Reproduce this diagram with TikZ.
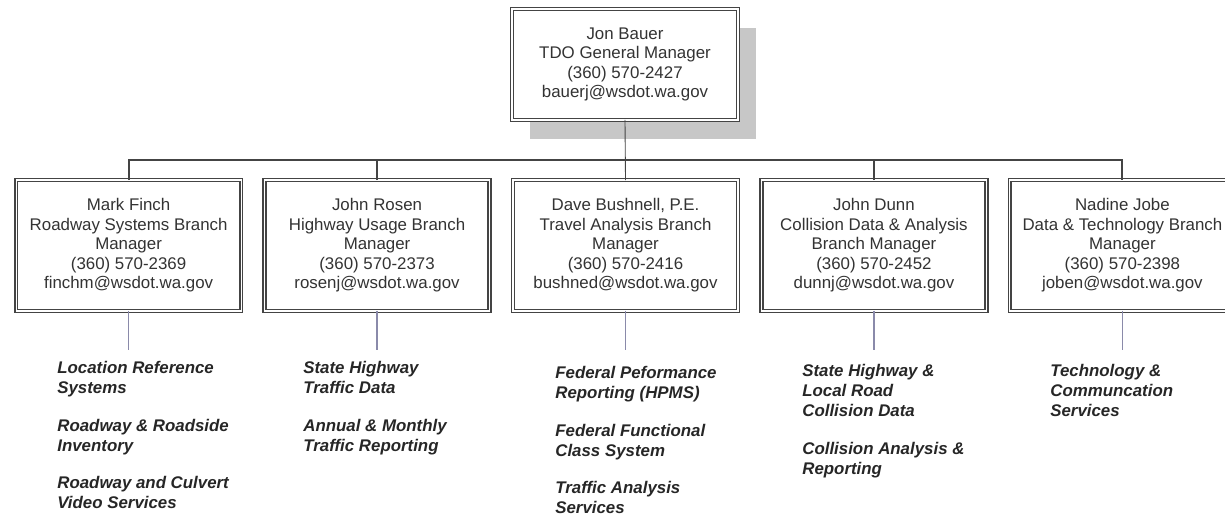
\documentclass[tikz,border=0pt]{standalone}
\usepackage{fontspec}
\setmainfont{Liberation Sans}
\usetikzlibrary{positioning,shadows}

\definecolor{boxline}{HTML}{444444}
\definecolor{boxtext}{HTML}{333333}
\definecolor{taplink}{HTML}{8A8AAA}

\tikzset{
  person/.style={draw=boxline, double=white, line width=0.9pt, double distance=0.6pt,
    fill=white, minimum width=4.5cm, minimum height=2.62cm, align=center,
    text=boxtext, font=\fontsize{9.6}{11.1}\selectfont, inner sep=0pt, outer sep=0pt},
  chief/.style={person, minimum width=4.52cm, minimum height=2.22cm,
    general shadow={fill=black!22, shadow xshift=0.36cm, shadow yshift=-0.38cm}},
  duties/.style={anchor=north west, align=left, inner sep=0pt, text=black!85,
    font=\fontsize{9.6}{11.4}\selectfont\bfseries\itshape},
  bar/.style={draw=boxline, line width=1.1pt},
  stem/.style={draw=boxline, line width=0.5pt},
  tap/.style={draw=taplink, line width=0.8pt}
}

\begin{document}
\begin{tikzpicture}[x=0.02cm, y=-0.02cm]
\useasboundingbox (0,0) rectangle (1225,517);

% general manager
\node[chief] (gm) at (625,64.5) {Jon Bauer\\TDO General Manager\\(360) 570-2427\\bauerj@wsdot.wa.gov};

% branches
\node[person] (travel) at (625.5,245.5) {Dave Bushnell, P.E.\\Travel Analysis Branch\\Manager\\(360) 570-2416\\bushned@wsdot.wa.gov};
\node[person, left=0.47cm of travel] (usage) {John Rosen\\Highway Usage Branch\\Manager\\(360) 570-2373\\rosenj@wsdot.wa.gov};
\node[person, left=0.47cm of usage] (roadway) {Mark Finch\\Roadway Systems Branch\\Manager\\(360) 570-2369\\finchm@wsdot.wa.gov};
\node[person, right=0.47cm of travel] (collision) {John Dunn\\Collision Data \& Analysis\\Branch Manager\\(360) 570-2452\\dunnj@wsdot.wa.gov};
\node[person, right=0.47cm of collision] (datatech) {Nadine Jobe\\Data \& Technology Branch\\Manager\\(360) 570-2398\\joben@wsdot.wa.gov};

\path (gm.south) ++(0,40) coordinate (split);
\draw[stem] (gm.south) -- (travel.north);
\draw[bar] (roadway.north) |- (split) -| (datatech.north);
\draw[bar] (usage.north) -- (usage.north |- split);
\draw[bar] (collision.north) -- (collision.north |- split);

% duties
\node[duties] (roadwayjobs) at (57,361) {Location Reference\\Systems\\[10pt]Roadway \& Roadside\\Inventory\\[10pt]Roadway and Culvert\\Video Services};
\node[duties] (usagejobs) at (303,361) {State Highway\\Traffic Data\\[10pt]Annual \& Monthly\\Traffic Reporting};
\node[duties] (traveljobs) at (555,366) {Federal Peformance\\Reporting (HPMS)\\[10pt]Federal Functional\\Class System\\[10pt]Traffic Analysis\\Services};
\node[duties] (collisionjobs) at (802,364) {State Highway \&\\Local Road\\Collision Data\\[10pt]Collision Analysis \&\\Reporting};
\node[duties] (datatechjobs) at (1050,364) {Technology \&\\Communcation\\Services};

\draw[tap] (roadway.south) -- (roadway.south |- 0,350);
\draw[tap] (usage.south) -- (usage.south |- 0,350);
\draw[tap] (travel.south) -- (travel.south |- 0,350);
\draw[tap] (collision.south) -- (collision.south |- 0,350);
\draw[tap] (datatech.south) -- (datatech.south |- 0,350);
\end{tikzpicture}
\end{document}
